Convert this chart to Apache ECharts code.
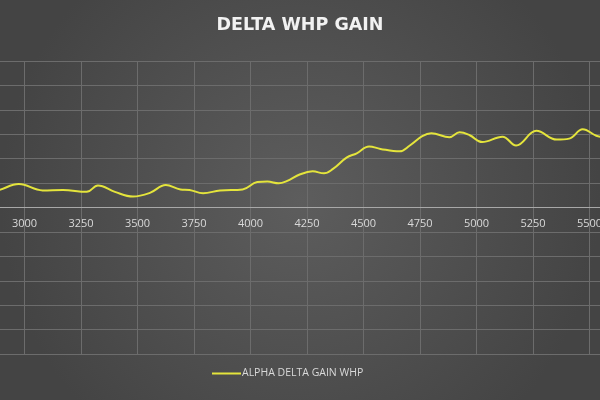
<!DOCTYPE html>
<html>
<head>
<meta charset="utf-8">
<title>DELTA WHP GAIN</title>
<script src="https://cdn.jsdelivr.net/npm/echarts@6/dist/echarts.min.js"></script>
<style>
    html, body {margin: 0; padding: 0; background: #4e4e4e;}
    #chart {width: 600px; height: 400px;}
</style>
</head>
<body>
<div id="chart"></div>
<script>
// rpm / delta whp
var rpm = [2850, 2890, 2975, 3080, 3170, 3275, 3325, 3400, 3480, 3555,
    3625, 3690, 3730, 3790, 3865, 3965, 4030, 4075, 4125, 4160,
    4220, 4275, 4325, 4365, 4425, 4470, 4525, 4575, 4660, 4705,
    4760, 4800, 4880, 4925, 4970, 5025, 5115, 5175, 5265, 5355,
    5410, 5470, 5530, 5560];
var deltaWhp = [3.0, 3.6, 4.8, 3.5, 3.6, 3.2, 4.5, 3.2, 2.25, 3.0,
    4.6, 3.7, 3.6, 2.9, 3.5, 3.7, 5.2, 5.3, 4.95, 5.4,
    6.8, 7.4, 7.0, 7.9, 10.2, 11.1, 12.5, 12.0, 11.5, 12.7,
    14.6, 15.2, 14.4, 15.4, 14.8, 13.4, 14.5, 12.7, 15.7, 13.9,
    14.1, 16.0, 14.7, 14.4];
var seriesName = 'ALPHA DELTA GAIN WHP';

var points = [];
for (var i = 0; i < rpm.length; i++) {
    points.push([rpm[i], deltaWhp[i]]);
}

var myChart = echarts.init(document.getElementById('chart'));
myChart.setOption({
    backgroundColor: {
        type: 'radial', x: 0.5, y: 0.5, r: 0.75,
        colorStops: [
            {offset: 0, color: '#5d5d5d'},
            {offset: 1, color: '#444444'}
        ]
    },
    animation: false,
    title: {
        text: 'DELTA WHP GAIN',
        left: 'center',
        top: 11,
        textStyle: {
            color: '#f2f2f2',
            fontFamily: 'DejaVu Sans',
            fontWeight: 'bold',
            fontSize: 17.5
        }
    },
    legend: {
        left: 207,
        top: 363,
        icon: 'rect',
        itemWidth: 29,
        itemHeight: 2,
        itemGap: 4,
        textStyle: {
            color: '#d9d9d9',
            fontFamily: 'Open Sans',
            fontSize: 10.5,
            padding: [0, 0, 0, -4]
        },
        data: [seriesName]
    },
    grid: {
        left: -32,
        right: -46,
        top: 61,
        bottom: 46,
        containLabel: false,
        outerBoundsMode: 'none'
    },
    xAxis: {
        type: 'value',
        min: 2750,
        max: 5750,
        interval: 250,
        position: 'bottom',
        offset: -147,
        axisLine: {onZero: false, lineStyle: {color: '#a8a8a8', width: 1}},
        axisTick: {show: false},
        axisLabel: {
            color: '#d9d9d9', fontFamily: 'Open Sans', fontSize: 11, margin: 11,
            formatter: function (v) { return String(v); }
        },
        splitLine: {show: true, lineStyle: {color: '#6c6c6c', width: 1}}
    },
    yAxis: {
        type: 'value',
        min: -30,
        max: 30,
        interval: 5,
        axisLine: {show: false},
        axisTick: {show: false},
        axisLabel: {show: false},
        splitLine: {show: true, lineStyle: {color: '#6c6c6c', width: 1}}
    },
    series: [{
        name: seriesName,
        type: 'line',
        data: points,
        smooth: 0.4,
        showSymbol: false,
        symbol: 'none',
        itemStyle: {color: '#e4e43c'},
        lineStyle: {color: '#e4e43c', width: 2}
    }]
});
</script>
</body>
</html>
